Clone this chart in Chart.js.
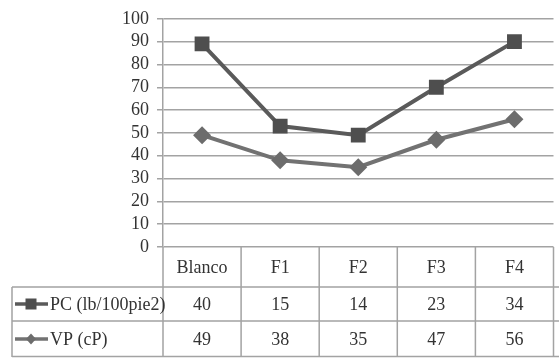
<!DOCTYPE html>
<html>
<head>
<meta charset="utf-8">
<script src="https://cdn.jsdelivr.net/npm/chart.js@4.4.1/dist/chart.umd.min.js"></script>
<style>
  html, body { margin: 0; padding: 0; background: #fff; overflow: hidden; }
  #wrap { width: 564px; height: 358px; }
</style>
</head>
<body>
<div id="wrap"><canvas id="c" width="564" height="358"></canvas></div>
<script>
// Formulations and the two rheological properties measured for each
const categories = ['Blanco', 'F1', 'F2', 'F3', 'F4'];
const pcLabel = 'PC (lb/100pie2)';
const vpLabel = 'VP (cP)';
const pcValues = [40, 15, 14, 23, 34];
const vpValues = [49, 38, 35, 47, 56];
const yTicks = [0, 10, 20, 30, 40, 50, 60, 70, 80, 90, 100];

const GRID = '#a3a3a3';
const TEXT = '#333333';
const FONT = '"Liberation Serif", "Times New Roman", serif';
const FONT_SIZE = 18;
const PC_LINE = '#5a5a5a', PC_POINT = '#4e4e4e';
const VP_LINE = '#727272', VP_POINT = '#6c6c6c';

// Data table under the plot: header row with categories, then one row per series
const dataTable = {
  id: 'dataTable',
  afterDraw(chart) {
    const { ctx, chartArea, scales: { x } } = chart;
    const top = chartArea.bottom;
    const rows = [top, top + 40, top + 74, top + 110];
    const left = 12;
    const right = chart.width;
    const half = (x.getPixelForValue(1) - x.getPixelForValue(0)) / 2;
    const axisX = chartArea.left;

    ctx.save();
    ctx.strokeStyle = GRID;
    ctx.lineWidth = 1.5;
    ctx.beginPath();
    // horizontal rules
    ctx.moveTo(left, rows[1]); ctx.lineTo(right, rows[1]);
    ctx.moveTo(left, rows[2]); ctx.lineTo(right, rows[2]);
    ctx.moveTo(left, rows[3] - 0.5); ctx.lineTo(right, rows[3] - 0.5);
    // vertical rules
    ctx.moveTo(left, rows[1]); ctx.lineTo(left, rows[3]);
    ctx.moveTo(axisX, rows[0]); ctx.lineTo(axisX, rows[3]);
    categories.forEach((c, i) => {
      const bx = x.getPixelForValue(i) + half;
      ctx.moveTo(bx, rows[0]); ctx.lineTo(bx, rows[3]);
    });
    ctx.stroke();

    ctx.fillStyle = TEXT;
    ctx.font = FONT_SIZE + 'px ' + FONT;
    ctx.textAlign = 'center';
    ctx.textBaseline = 'middle';
    const seriesRows = [pcValues, vpValues];
    categories.forEach((c, i) => {
      const cx = x.getPixelForValue(i);
      ctx.fillText(c, cx, (rows[0] + rows[1]) / 2 + 1);
      seriesRows.forEach((vals, r) => {
        ctx.fillText(String(vals[i]), cx, (rows[r + 1] + rows[r + 2]) / 2 + 1);
      });
    });

    // series keys
    const keyX0 = 15, keyX1 = 48, keyMid = 31;
    const pcY = (rows[1] + rows[2]) / 2;
    const vpY = (rows[2] + rows[3]) / 2;
    ctx.lineWidth = 3.5;
    ctx.strokeStyle = PC_LINE;
    ctx.beginPath(); ctx.moveTo(keyX0, pcY); ctx.lineTo(keyX1, pcY); ctx.stroke();
    ctx.fillStyle = PC_POINT;
    ctx.fillRect(keyMid - 5.5, pcY - 5.5, 11, 11);
    ctx.strokeStyle = VP_LINE;
    ctx.beginPath(); ctx.moveTo(keyX0, vpY); ctx.lineTo(keyX1, vpY); ctx.stroke();
    ctx.fillStyle = VP_POINT;
    ctx.beginPath();
    ctx.moveTo(keyMid, vpY - 5.5); ctx.lineTo(keyMid + 5, vpY);
    ctx.lineTo(keyMid, vpY + 5.5); ctx.lineTo(keyMid - 5, vpY);
    ctx.closePath(); ctx.fill();

    ctx.fillStyle = TEXT;
    ctx.textAlign = 'left';
    ctx.fillText(pcLabel, 50, pcY + 1);
    ctx.fillText(vpLabel, 50, vpY + 1);
    ctx.restore();
  }
};

new Chart(document.getElementById('c'), {
  type: 'line',
  data: {
    labels: categories,
    datasets: [
      {
        label: vpLabel,
        data: vpValues,
        borderColor: VP_LINE,
        backgroundColor: VP_POINT,
        borderWidth: 4,
        pointStyle: 'rectRot',
        pointRadius: 9,
        pointBorderWidth: 0,
        fill: false,
        tension: 0
      },
      {
        label: pcLabel,
        data: pcValues,
        borderColor: PC_LINE,
        backgroundColor: PC_POINT,
        borderWidth: 4,
        pointStyle: 'rect',
        pointRadius: 10.5,
        pointBorderWidth: 0,
        fill: false,
        tension: 0
      }
    ]
  },
  options: {
    responsive: false,
    animation: false,
    layout: { padding: { left: 0, right: 0, top: 17, bottom: 111 } },
    plugins: { legend: { display: false }, tooltip: { enabled: false } },
    scales: {
      x: {
        type: 'category',
        offset: true,
        display: false
      },
      y: {
        stacked: true,
        min: 0,
        max: 100,
        afterFit(scale) { scale.width = 163; },
        afterBuildTicks(scale) { scale.ticks = yTicks.map(v => ({ value: v })); },
        border: { display: true, color: GRID, width: 1.5 },
        grid: { color: GRID, lineWidth: 1.5, tickLength: 6 },
        ticks: {
          autoSkip: false,
          color: TEXT,
          padding: 8,
          font: { family: FONT, size: FONT_SIZE }
        }
      }
    }
  },
  plugins: [dataTable]
});
</script>
</body>
</html>
